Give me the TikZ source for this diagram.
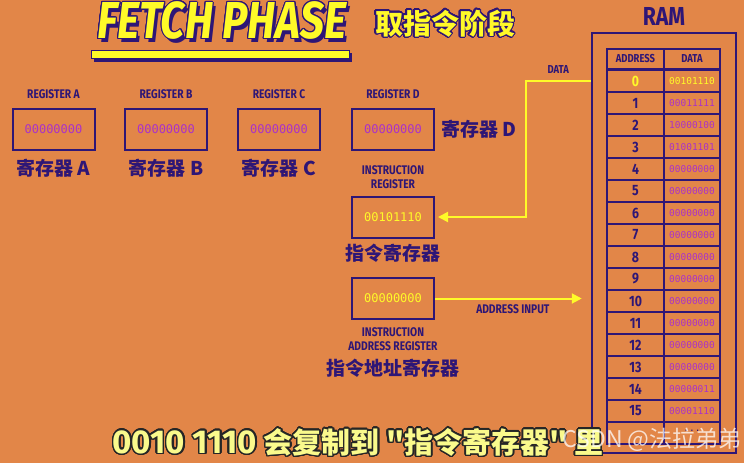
\documentclass[tikz,border=0pt]{standalone}
\usepackage{fontspec}
\usepackage{contour}
\usetikzlibrary{positioning, arrows.meta}

\setmainfont{Fira Sans}
\newfontfamily\condfont{Fira Sans}[FakeStretch=0.82]
\newfontfamily\cjk{Noto Sans CJK SC}
\newfontfamily\bitfont{DejaVu Sans Mono}
\newfontfamily\digitfont{Fira Sans}

\definecolor{bgorange}{RGB}{226,134,72}
\definecolor{navy}{RGB}{46,22,118}
\definecolor{bitpurple}{RGB}{170,50,200}
\definecolor{hiyellow}{RGB}{255,250,40}
\definecolor{subyellow}{RGB}{250,250,140}

\contournumber{24}

\begin{document}
\begin{tikzpicture}[
    x=1pt, y=-1pt,
    register/.style={draw=navy, line width=2pt, minimum width=82pt, minimum height=41pt, inner sep=0pt, text=bitpurple, font=\bitfont\fontsize{12}{12}\selectfont},
    reglabel/.style={text=navy, font=\condfont\bfseries\fontsize{12.5}{14}\selectfont, align=center, inner sep=1pt},
    cnlabel/.style={text=navy, font=\cjk\bfseries\fontsize{19}{19}\selectfont, inner sep=1pt},
    cell/.style={draw=navy, line width=2pt, minimum height=22pt, inner sep=0pt},
    addrcell/.style={cell, minimum width=57pt, text=navy, font=\condfont\bfseries\fontsize{15}{15}\selectfont},
    datacell/.style={cell, minimum width=56pt, text=bitpurple, font=\bitfont\fontsize{9.5}{10}\selectfont},
    busline/.style={draw=hiyellow, line width=2pt},
    busarrow/.style={busline, -{Triangle[length=10pt, width=10pt]}},
    titlefont/.style={font=\condfont\bfseries\itshape\fontsize{52}{52}\selectfont}
]
    % Background
    \fill[bgorange] (0,0) rectangle (744,463);
    \useasboundingbox (0,0) rectangle (744,463);

    % Title
    \node[titlefont, text=navy] (titleshadow) at (225,24) {FETCH PHASE};
    \node[titlefont, text=hiyellow] (title) at (222,21) {\contourlength{1pt}\contour{navy}{FETCH PHASE}};
    \fill[navy] (94,53) rectangle (352,62);
    \filldraw[fill=hiyellow, draw=navy, line width=0.8pt] (91,50) rectangle (349,58);
    \node[text=hiyellow, font=\cjk\bfseries\fontsize{28}{28}\selectfont] (titlecn) at (445,24) {\contourlength{1.4pt}\contour{navy}{取指令阶段}};

    % Registers A-D
    \node[register] (regA) at (53.5,129.5) {00000000};
    \node[register] (regB) at (166,129.5) {00000000};
    \node[register] (regC) at (279,129.5) {00000000};
    \node[register] (regD) at (393,129.5) {00000000};
    \foreach \r in {A,B,C,D} {
        \node[reglabel, above=8pt of reg\r] (lab\r) {REGISTER \r};
    }
    \node[cnlabel, below=7pt of regA] (cnA) {寄存器 A};
    \node[cnlabel, below=7pt of regB] (cnB) {寄存器 B};
    \node[cnlabel, below=7pt of regC] (cnC) {寄存器 C};
    \node[cnlabel, right=5pt of regD] (cnD) {寄存器 D};

    % Instruction register
    \node[register, text=hiyellow] (ir) at (393,217) {00101110};
    \node[reglabel, above=6pt of ir] (labir) {INSTRUCTION\\REGISTER};
    \node[cnlabel, below=4pt of ir] (cnir) {指令寄存器};

    % Instruction address register
    \node[register, text=hiyellow] (iar) at (393,298.5) {00000000};
    \node[reglabel, below=6pt of iar] (labiar) {INSTRUCTION\\ADDRESS REGISTER};
    \node[cnlabel, below=6pt of labiar] (cniar) {指令地址寄存器};

    % RAM
    \node[draw=navy, line width=2.5pt, minimum width=144pt, minimum height=420pt] (ram) at (664,243) {};
    \node[text=navy, font=\condfont\bfseries\fontsize{26}{26}\selectfont] (ramlabel) at (664,16) {RAM};
    \node[addrcell, minimum height=20pt, font=\condfont\bfseries\fontsize{11.5}{12}\selectfont] (addrhead) at (635.5,59) {ADDRESS};
    \node[datacell, minimum height=20pt, text=navy, font=\condfont\bfseries\fontsize{11.5}{12}\selectfont] (datahead) at (692,59) {DATA};
    \node[addrcell, text=hiyellow] (addr0) at (635.5,81) {0};
    \node[datacell, text=hiyellow] (data0) at (692,81) {00101110};
    \foreach \a/\d in {1/00011111, 2/10000100, 3/01001101, 4/00000000, 5/00000000,
                       6/00000000, 7/00000000, 8/00000000, 9/00000000, 10/00000000,
                       11/00000000, 12/00000000, 13/00000000, 14/00000011, 15/00001110} {
        \node[addrcell] (addr\a) at (635.5,{81+22*\a}) {\a};
        \node[datacell] (data\a) at (692,{81+22*\a}) {\d};
    }
    \node[addrcell] (addrmore) at (635.5,433) {};
    \node[datacell, text=navy] (datamore) at (692,433) {\raisebox{5pt}{...}};

    % Buses
    \draw[busarrow, shorten >=3pt] (ram.west |- addr0) -- node[reglabel, above=6pt, font=\condfont\bfseries\fontsize{11.5}{12}\selectfont] (datalabel) {DATA} ++(-65,0) |- (ir.east);
    \draw[busarrow, shorten >=9pt] (iar.east) -- node[reglabel, below=4pt] (addrinput) {ADDRESS INPUT} (ram.west |- iar.east);

    % Subtitle
    \node[text=subyellow, font=\cjk\bfseries\fontsize{29}{29}\selectfont] (subtitle) at (358,443) {\contourlength{1.5pt}\contour{black!85}{{\digitfont\bfseries\fontsize{33}{33}\selectfont 0010 1110} 会复制到 "指令寄存器" 里}};
    \node[text=white, opacity=0.75, font=\cjk\fontsize{23}{23}\selectfont] (watermark) at (652,440) {CSDN @法拉弟弟};
\end{tikzpicture}
\end{document}
